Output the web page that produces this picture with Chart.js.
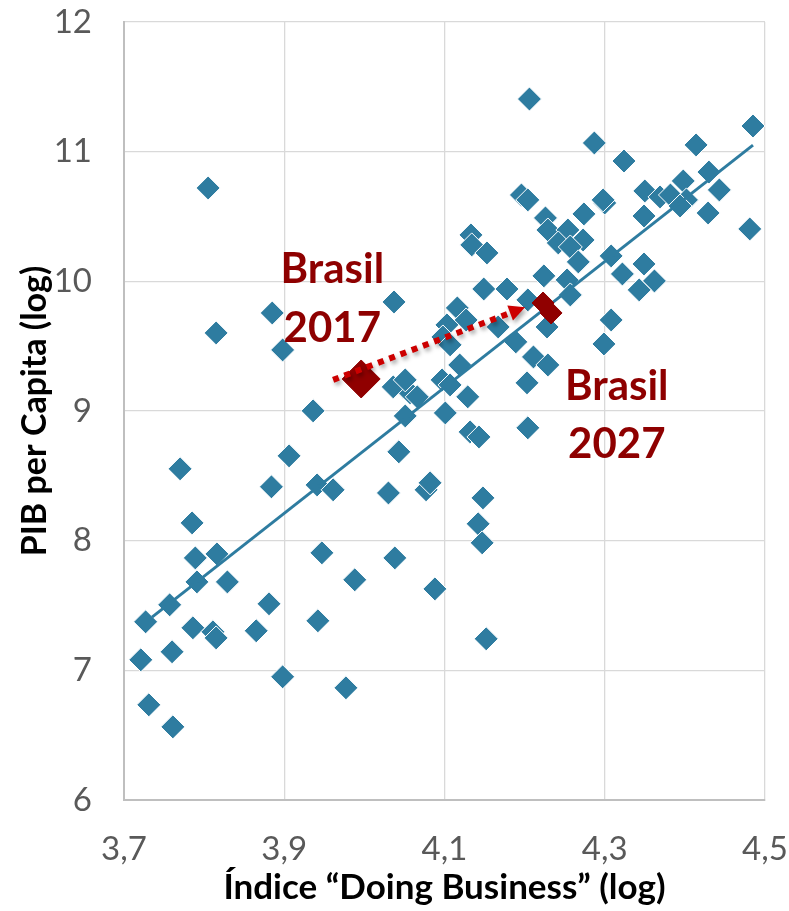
<!DOCTYPE html>
<html>
<head>
<meta charset="utf-8">
<script src="https://cdn.jsdelivr.net/npm/chart.js@4.4.1/dist/chart.umd.min.js"></script>
<style>
  html, body { margin: 0; padding: 0; background: #fff; }
  #wrap { width: 789px; height: 911px; }
</style>
</head>
<body>
<div id="wrap"><canvas id="chart" width="789" height="911"></canvas></div>
<script>
// Datos: índice Doing Business (log) vs PIB per cápita (log)
const paisesX = [
    3.721, 3.727, 3.757, 3.760, 3.731, 3.761, 3.786, 3.811, 3.815, 3.865,
    3.791, 3.829, 3.789, 3.816, 3.785, 3.881, 3.898, 3.942, 3.977, 3.947,
    3.988, 4.038, 4.088, 3.884, 3.941, 3.961, 4.030, 4.077, 4.082, 3.770,
    3.906, 3.936, 4.043, 3.815, 3.885, 3.898, 4.037, 3.805,
    4.048, 4.057, 4.066, 4.036, 4.051, 4.097, 4.101, 4.051, 4.107, 4.129,
    4.132, 4.143, 4.204, 4.203, 4.148, 4.142, 4.147, 4.152, 4.119, 4.116,
    4.103, 4.098, 4.107, 4.127, 4.167, 4.189, 4.228, 4.211, 4.229, 4.133,
    4.134, 4.153, 4.149, 4.178, 4.204,
    4.196, 4.204, 4.226, 4.229, 4.254, 4.273, 4.242, 4.257, 4.267, 4.274,
    4.300, 4.308, 4.322, 4.349, 4.362, 4.343, 4.224, 4.253, 4.257, 4.308,
    4.299,
    4.206, 4.287, 4.324, 4.485, 4.414, 4.430, 4.443, 4.350, 4.369, 4.382,
    4.398, 4.402, 4.394, 4.429, 4.481, 4.349, 4.298
];
const paisesY = [
    7.081, 7.374, 7.505, 7.143, 6.734, 6.564, 7.328, 7.297, 7.250, 7.305,
    7.682, 7.682, 7.867, 7.898, 8.137, 7.513, 6.950, 7.382, 6.865, 7.906,
    7.698, 7.867, 7.628, 8.415, 8.430, 8.392, 8.368, 8.392, 8.446, 8.554,
    8.654, 9.001, 8.685, 9.602, 9.756, 9.471, 9.841, 10.720,
    9.186, 9.140, 9.109, 9.186, 9.240, 9.240, 8.985, 8.962, 9.201, 9.109,
    8.839, 8.800, 8.870, 9.217, 8.330, 8.130, 7.983, 7.243, 9.355, 9.795,
    9.664, 9.571, 9.510, 9.702, 9.648, 9.533, 9.648, 9.417, 9.355, 10.358,
    10.281, 10.219, 9.941, 9.941, 9.857,
    10.666, 10.628, 10.489, 10.396, 10.396, 10.319, 10.296, 10.265, 10.150, 10.520,
    10.604, 10.196, 10.057, 10.134, 10.003, 9.934, 10.042, 10.011, 9.895, 9.702,
    9.517,
    11.406, 11.067, 10.928, 11.198, 11.052, 10.843, 10.705, 10.697, 10.651, 10.666,
    10.774, 10.628, 10.581, 10.527, 10.404, 10.504, 10.628
];

// Brasil 2017 y proyección 2027
const brasil2017X = [3.996];
const brasil2017Y = [9.247];
const brasil2027X = [4.223, 4.233];
const brasil2027Y = [9.833, 9.756];

// Línea de tendencia (extremos)
const tendenciaX = [3.735, 4.485];
const tendenciaY = [7.41, 11.05];

// Flecha 2017 -> 2027
const flechaX = [3.961, 4.2006];
const flechaY = [9.24, 9.80];

// Ejes
const xTicks = [3.7, 3.9, 4.1, 4.3, 4.5];
const yTicks = [6, 7, 8, 9, 10, 11, 12];

const AZUL = '#2E7CA0';
const ROJO_OSCURO = '#900000';
const ROJO = '#CC0000';
const FUENTE = "Lato, 'Open Sans', sans-serif";

function toPoints(xs, ys) {
    return xs.map((x, i) => ({ x: x, y: ys[i] }));
}

// Flecha punteada y etiquetas de texto
const anotaciones = {
    id: 'anotaciones',
    afterDatasetsDraw(chart) {
        const ctx = chart.ctx;
        const sx = chart.scales.x;
        const sy = chart.scales.y;
        const x1 = sx.getPixelForValue(flechaX[0]);
        const y1 = sy.getPixelForValue(flechaY[0]);
        const x2 = sx.getPixelForValue(flechaX[1]);
        const y2 = sy.getPixelForValue(flechaY[1]);
        const ang = Math.atan2(y2 - y1, x2 - x1);
        const head = 16;
        const bx = x2 - Math.cos(ang) * head;
        const by = y2 - Math.sin(ang) * head;

        ctx.save();
        ctx.shadowColor = 'rgba(0,0,0,0.35)';
        ctx.shadowBlur = 4;
        ctx.shadowOffsetX = 2;
        ctx.shadowOffsetY = 3;
        ctx.strokeStyle = ROJO;
        ctx.lineWidth = 6;
        ctx.setLineDash([6, 6]);
        ctx.beginPath();
        ctx.moveTo(x1, y1);
        ctx.lineTo(bx, by);
        ctx.stroke();
        ctx.setLineDash([]);
        ctx.fillStyle = ROJO;
        ctx.beginPath();
        ctx.moveTo(x2, y2);
        ctx.lineTo(bx + Math.sin(ang) * 8, by - Math.cos(ang) * 8);
        ctx.lineTo(bx - Math.sin(ang) * 8, by + Math.cos(ang) * 8);
        ctx.closePath();
        ctx.fill();
        ctx.restore();

        ctx.save();
        ctx.fillStyle = '#8E0000';
        ctx.font = 'bold 42px ' + FUENTE;
        ctx.textAlign = 'center';
        ctx.textBaseline = 'alphabetic';
        const etiquetas = [
            ['Brasil', 3.960, 9.99],
            ['2017', 3.960, 9.53],
            ['Brasil', 4.315, 9.085],
            ['2027', 4.315, 8.64]
        ];
        etiquetas.forEach(e => {
            ctx.fillText(e[0], sx.getPixelForValue(e[1]), sy.getPixelForValue(e[2]));
        });
        ctx.restore();
    }
};

new Chart(document.getElementById('chart').getContext('2d'), {
    type: 'scatter',
    data: {
        datasets: [
            {
                label: 'Brasil 2027',
                data: toPoints(brasil2027X, brasil2027Y),
                pointStyle: 'rectRot',
                pointRadius: 11,
                backgroundColor: ROJO_OSCURO,
                borderColor: ROJO_OSCURO,
                borderWidth: 1
            },
            {
                label: 'Brasil 2017',
                data: toPoints(brasil2017X, brasil2017Y),
                pointStyle: 'rectRot',
                pointRadius: 19,
                backgroundColor: ROJO_OSCURO,
                borderColor: ROJO_OSCURO,
                borderWidth: 1
            },
            {
                label: 'Tendencia',
                type: 'line',
                data: toPoints(tendenciaX, tendenciaY),
                borderColor: AZUL,
                borderWidth: 3,
                pointRadius: 0,
                fill: false
            },
            {
                label: 'Países',
                data: toPoints(paisesX, paisesY),
                pointStyle: 'rectRot',
                pointRadius: 12,
                backgroundColor: AZUL,
                borderColor: '#ffffff',
                borderWidth: 1
            }
        ]
    },
    options: {
        responsive: false,
        animation: false,
        layout: {
            padding: { top: 22, right: 24, left: 0, bottom: 0 }
        },
        plugins: {
            legend: { display: false },
            tooltip: { enabled: false }
        },
        scales: {
            x: {
                type: 'linear',
                min: 3.7,
                max: 4.5,
                afterBuildTicks: axis => { axis.ticks = xTicks.map(v => ({ value: v })); },
                afterFit: axis => {
                    axis.height = 111;
                    axis.paddingLeft = 0;
                    axis.paddingRight = 0;
                },
                grid: { color: '#D9D9D9', lineWidth: 1.3, drawTicks: false },
                border: { color: '#BFBFBF', width: 2 },
                ticks: {
                    padding: 30,
                    color: '#595959',
                    font: { family: FUENTE, size: 33 },
                    callback: v => v.toFixed(1).replace('.', ',')
                },
                title: {
                    display: true,
                    text: 'Índice “Doing Business” (log)',
                    color: '#000000',
                    font: { family: FUENTE, size: 35, weight: 'bold' },
                    padding: { top: 0, bottom: 2 }
                }
            },
            y: {
                type: 'linear',
                min: 6,
                max: 12,
                afterBuildTicks: axis => { axis.ticks = yTicks.map(v => ({ value: v })); },
                afterFit: axis => {
                    axis.width = 124;
                    axis.paddingTop = 0;
                    axis.paddingBottom = 0;
                },
                grid: { color: '#D9D9D9', lineWidth: 1.3, drawTicks: false },
                border: { color: '#BFBFBF', width: 2 },
                ticks: {
                    padding: 32,
                    color: '#595959',
                    font: { family: FUENTE, size: 33 },
                    callback: v => String(v)
                },
                title: {
                    display: true,
                    text: 'PIB per Capita (log)',
                    color: '#000000',
                    font: { family: FUENTE, size: 34, weight: 'bold' },
                    padding: { top: 15, bottom: 0 }
                }
            }
        }
    },
    plugins: [anotaciones]
});
</script>
</body>
</html>
